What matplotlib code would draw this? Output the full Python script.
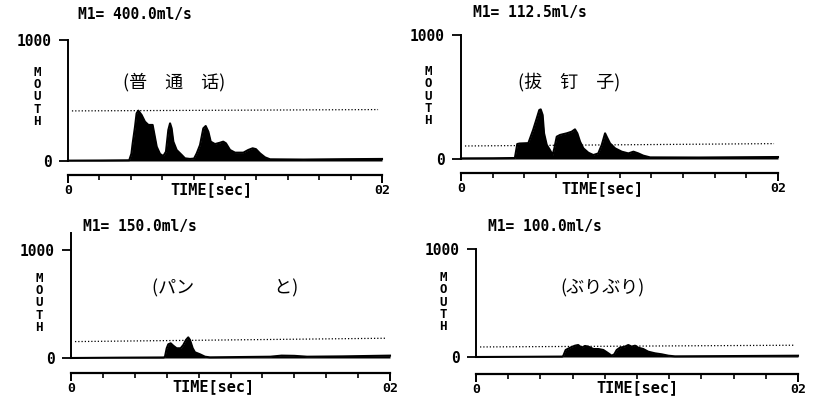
import numpy as np
import matplotlib
matplotlib.use("Agg")
import matplotlib.pyplot as plt

# ---------------- data ----------------
titles = ["M1= 400.0ml/s", "M1= 112.5ml/s", "M1= 150.0ml/s", "M1= 100.0ml/s"]
annotations = ["(普\u3000通\u3000话)", "(拔\u3000钉\u3000子)",
               "(パン\u3000\u3000\u3000\u3000  と)", "(ぶりぶり)"]
annot_fonts = ["Noto Sans CJK SC", "Noto Sans CJK SC", "Noto Sans CJK JP", "Noto Sans CJK JP"]
y_ticks = [0, 1000]
y_ticklabels = ["0", "1000"]
time_ticklabels = ["0", "02"]
time_label = "TIME[sec]"
y_label = "MOUTH"

# dotted M1 reference level (start, end) in ml/s
m1_start = [414, 105, 152, 93]
m1_end = [425, 124, 183, 109]

p1_t = [0, 0.20, 0.39, 0.404, 0.412, 0.427, 0.437, 0.448, 0.469, 0.490, 0.512, 0.539,
        0.549, 0.565, 0.586, 0.607, 0.624, 0.639, 0.650, 0.660, 0.671, 0.692, 0.724,
        0.745, 0.777, 0.803, 0.820, 0.841, 0.862, 0.877, 0.894, 0.909, 0.936, 0.968,
        0.989, 1.006, 1.032, 1.064, 1.117, 1.148, 1.176, 1.197, 1.223, 1.255, 1.287,
        1.50, 1.75, 2.0]
p1_v = [3, 4, 6, 60, 146, 284, 394, 416, 380, 325, 298, 298, 229, 118, 58, 41, 77, 256,
        311, 270, 160, 91, 50, 22, 17, 20, 63, 132, 270, 289, 242, 160, 140, 151, 160,
        146, 91, 69, 69, 91, 105, 98, 63, 30, 14, 12, 15, 17]

p2_t = [0, 0.2, 0.34, 0.355, 0.37, 0.425, 0.455, 0.478, 0.494, 0.503, 0.515, 0.524,
        0.541, 0.561, 0.578, 0.589, 0.604, 0.625, 0.667, 0.698, 0.719, 0.734, 0.751,
        0.772, 0.803, 0.835, 0.866, 0.888, 0.909, 0.919, 0.940, 0.972, 1.014, 1.056,
        1.088, 1.119, 1.150, 1.193, 1.5, 2.0]
p2_v = [5, 6, 8, 121, 125, 128, 234, 328, 395, 400, 355, 207, 113, 73, 32, 86, 180, 194,
        207, 220, 239, 207, 140, 86, 51, 32, 45, 113, 207, 180, 126, 86, 59, 45, 59, 45,
        27, 13, 12, 16]

p3_t = [0, 0.3, 0.58, 0.589, 0.600, 0.610, 0.625, 0.641, 0.662, 0.687, 0.704, 0.721,
        0.735, 0.746, 0.763, 0.777, 0.809, 0.840, 0.871, 1.0, 1.25, 1.32, 1.40, 1.48,
        1.7, 2.0]
p3_v = [0, 3, 5, 10, 90, 127, 136, 114, 90, 90, 120, 167, 191, 167, 90, 53, 34, 12, 6, 8,
        12, 22, 20, 12, 15, 22]

p4_t = [0, 0.3, 0.535, 0.542, 0.557, 0.584, 0.615, 0.635, 0.656, 0.677, 0.698, 0.729,
        0.760, 0.791, 0.822, 0.843, 0.859, 0.874, 0.894, 0.925, 0.946, 0.967, 0.988,
        1.008, 1.039, 1.070, 1.112, 1.153, 1.195, 1.236, 1.5, 2.0]
p4_v = [0, 2, 4, 10, 65, 86, 105, 111, 86, 102, 96, 74, 74, 65, 34, 12, 25, 65, 86, 96,
        111, 96, 105, 86, 74, 49, 34, 25, 12, 6, 8, 12]

traces_t = [p1_t, p2_t, p3_t, p4_t]
traces_v = [p1_v, p2_v, p3_v, p4_v]

# ---------------- layout (pixels) ----------------
W, H = 813, 398
# x0, x2, y_zero, y_1000, time_line_y, axis_top_value
geom = [
    (68, 382, 161, 40, 175, 1000),
    (461, 778, 159, 35, 173, 1000),
    (71, 390, 358, 250, 373, 1160),
    (476, 798, 357, 249, 374, 1000),
]
title_pos = [(78, 15), (473, 13), (83, 226), (488, 226)]
mouth_pos = [(37, 97), (428, 96), (39, 303), (443, 302)]
annot_pos = [(123, 82), (518, 82), (152, 288), (560, 288)]
timelab_pos = [(211, 190), (602, 189), (213, 387), (637, 388)]

MONO = "DejaVu Sans Mono"
FS = 10.5


def fx(x):
    return x / W


def fy(y):
    return 1 - y / H


fig = plt.figure(figsize=(W / 100, H / 100), dpi=100)
fig.patch.set_facecolor("white")

for i in range(4):
    x0, x2, yz, yk, yt, top = geom[i]
    ax = fig.add_axes([fx(x0), fy(yz), fx(x2) - fx(x0), fy(yk) - fy(yz)])
    ax.set_xlim(0, 2)
    ax.set_ylim(0, 1000)
    ax.patch.set_alpha(0)
    for s in ["top", "right", "bottom"]:
        ax.spines[s].set_visible(False)
    ax.spines["left"].set_linewidth(1.4)
    ax.spines["left"].set_bounds(0, top)
    ax.set_xticks([])
    ax.set_yticks(y_ticks)
    ax.set_yticklabels(y_ticklabels, family=MONO, fontweight="bold", fontsize=FS)
    ax.tick_params(axis="y", direction="out", length=6.5, width=1.3, pad=5)

    t = np.array(traces_t[i])
    v = np.array(traces_v[i])
    ax.fill_between(t, 0, v, color="black", lw=0)
    ax.plot(t, v, color="black", lw=1.5, clip_on=False, solid_joinstyle="round")
    ax.plot([0.025, 1.975], [m1_start[i], m1_end[i]], color="black", lw=0.9,
            linestyle=(0, (1, 1.6)))

    # time axis
    axt = fig.add_axes([fx(x0), fy(yt), fx(x2) - fx(x0), 0.001])
    axt.patch.set_alpha(0)
    for s in ["top", "right", "left"]:
        axt.spines[s].set_visible(False)
    axt.spines["bottom"].set_linewidth(1.6)
    axt.set_xlim(0, 2)
    axt.set_yticks([])
    axt.set_xticks([0, 2])
    axt.set_xticklabels(time_ticklabels, family=MONO, fontweight="bold", fontsize=9.5)
    axt.set_xticks(np.arange(1, 10) * 0.2, minor=True)
    axt.tick_params(axis="x", which="major", direction="out", length=6, width=1.4, pad=0.5)
    axt.tick_params(axis="x", which="minor", direction="out", length=3.5, width=1.2)

    fig.text(fx(timelab_pos[i][0]), fy(timelab_pos[i][1]), time_label, family=MONO,
             fontweight="bold", fontsize=11, ha="center", va="center")
    fig.text(fx(title_pos[i][0]), fy(title_pos[i][1]), titles[i], family=MONO,
             fontweight="bold", fontsize=FS, ha="left", va="center")
    fig.text(fx(mouth_pos[i][0]), fy(mouth_pos[i][1]), "\n".join(y_label), family=MONO,
             fontweight="bold", fontsize=9, ha="center", va="center", linespacing=0.92)
    fig.text(fx(annot_pos[i][0]), fy(annot_pos[i][1]), annotations[i],
             family=[annot_fonts[i], "DejaVu Sans"], fontsize=13, ha="left", va="center")

fig.savefig("out.png", dpi=100, facecolor="white")
